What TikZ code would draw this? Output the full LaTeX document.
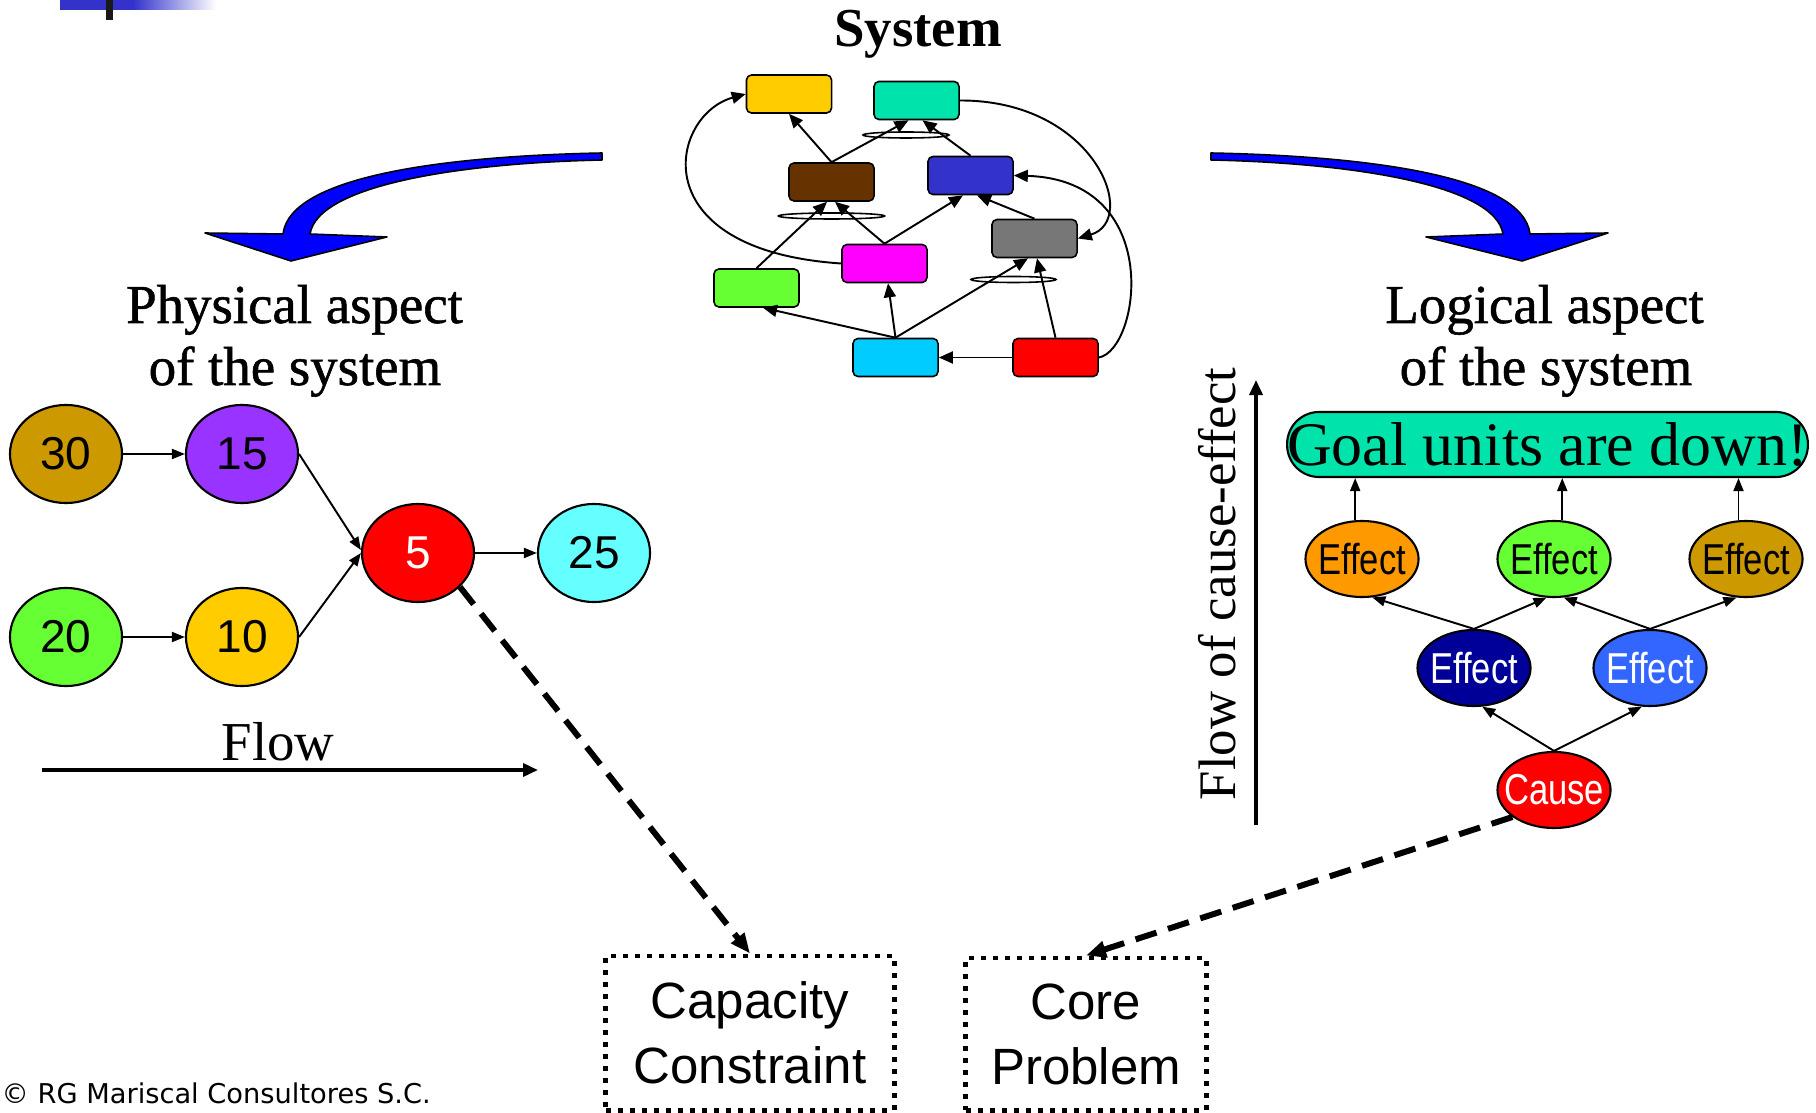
\documentclass[tikz,border=0pt]{standalone}
\usepackage{fontspec}
\setmainfont{Liberation Serif}
\newfontfamily\titlefont[FakeBold=1]{Liberation Serif}
\newfontfamily\sansfont{Liberation Sans}
\newfontfamily\narrowsans[FakeStretch=0.8]{Liberation Sans}
\newfontfamily\notefont{DejaVu Sans}
\usetikzlibrary{arrows.meta,shapes.geometric,calc}

\definecolor{cyellow}{HTML}{FFCC00}
\definecolor{cteal}{HTML}{00E3AA}
\definecolor{cbrown}{HTML}{663300}
\definecolor{cblue}{HTML}{3333CC}
\definecolor{cgray}{HTML}{777777}
\definecolor{cmagenta}{HTML}{FF00FF}
\definecolor{cgreen}{HTML}{66FF33}
\definecolor{ccyan}{HTML}{00CCFF}
\definecolor{cred}{HTML}{FF0000}
\definecolor{colive}{HTML}{CC9900}
\definecolor{cviolet}{HTML}{9933FF}
\definecolor{caqua}{HTML}{66FFFF}
\definecolor{corange}{HTML}{FF9900}
\definecolor{cnavy}{HTML}{000099}
\definecolor{csky}{HTML}{3366FF}
\definecolor{cbarblue}{HTML}{3333CC}

% zero-width text so the ellipse keeps its own size
\newcommand\zw[1]{\makebox[0pt]{#1}}

\tikzset{
  sysbox/.style={draw, line width=0.45pt, rounded corners=0.05cm,
    minimum width=0.85cm, minimum height=0.38cm, inner sep=0pt},
  sysarr/.style={-{Triangle[length=0.14cm,width=0.12cm]}, line width=0.55pt},
  andarc/.style={line width=0.45pt},
  physnode/.style={ellipse, draw, line width=0.6pt, minimum width=1.12cm,
    minimum height=0.98cm, inner sep=0pt,
    font=\sansfont\fontsize{13.1pt}{13.1pt}\selectfont},
  effnode/.style={ellipse, draw, line width=0.6pt, minimum width=1.13cm,
    minimum height=0.76cm, inner sep=0pt,
    font=\narrowsans\fontsize{12.3pt}{12pt}\selectfont},
  thinarr/.style={-{Triangle[length=0.13cm,width=0.1cm]}, line width=0.55pt},
  flowarr/.style={-{Triangle[length=0.15cm,width=0.13cm]}, line width=1pt},
  dasharr/.style={-{Triangle[length=0.2cm,width=0.16cm]}, line width=1.7pt,
    dash pattern=on 0.22cm off 0.12cm},
  dotbox/.style={draw, line width=1.4pt, dash pattern=on 0.05cm off 0.07cm,
    inner sep=0pt, align=center,
    font=\sansfont\fontsize{14.5pt}{18.5pt}\selectfont},
  titletext/.style={anchor=base, inner sep=0pt,
    font=\titlefont\fontsize{15.6pt}{15.6pt}\selectfont},
  bigarrow/.style={fill=blue, draw=black, line width=0.45pt, line join=round},
}

% outline of the curved block arrow (left-hand version)
\newcommand\curvedblock{%
  (602,153) .. controls (450,156) and (290,175) .. (283,234)
  -- (205,233) -- (291,261) -- (387,237) -- (310,234)
  .. controls (318,185) and (460,163) .. (602,160) -- cycle}

\begin{document}
\begin{tikzpicture}[x=0.01cm, y=-0.01cm]
\useasboundingbox (0,0) rectangle (1816,1113);

% corner ornament
\fill[cbarblue] (60,0) rectangle (134,10);
\shade[left color=cbarblue, right color=white] (133,0) rectangle (216,10);
\fill[black!90] (106,0) rectangle (113,20);

% ---------- system graph ----------
\node[titletext, font=\bfseries\fontsize{15.6pt}{15.6pt}\selectfont] (systitle) at (918,47) {System};

\node[sysbox, fill=cyellow]  (yel)   at (789,94)      {};
\node[sysbox, fill=cteal]    (teal)  at (916.5,100.5) {};
\node[sysbox, fill=cbrown]   (brown) at (831.5,182)   {};
\node[sysbox, fill=cblue]    (blu)   at (970.5,175.5) {};
\node[sysbox, fill=cgray]    (gry)   at (1034.5,238.5){};
\node[sysbox, fill=cmagenta] (mag)   at (884.5,263.5) {};
\node[sysbox, fill=cgreen]   (grn)   at (756.5,288)   {};
\node[sysbox, fill=ccyan]    (cya)   at (895.5,357.5) {};
\node[sysbox, fill=cred]     (rd)    at (1055.5,357.5){};

\draw[andarc] (906,135) ellipse [x radius=0.43cm, y radius=0.03cm];
\draw[andarc] (831.5,216) ellipse [x radius=0.53cm, y radius=0.03cm];
\draw[andarc] (1013.5,279.5) ellipse [x radius=0.425cm, y radius=0.03cm];

\draw[sysarr] (brown.north) -- (yel.south);
\draw[sysarr] (brown.north) -- ($(teal.south)+(-8,0)$);
\draw[sysarr] (blu.north) -- ($(teal.south)+(6,0)$);
\draw[sysarr] (grn.north) -- ($(brown.south)+(-4.5,0)$);
\draw[sysarr] (mag.north) -- ($(brown.south)+(3.5,0)$);
\draw[sysarr] (mag.north) -- ($(blu.south)+(-7.5,0)$);
\draw[sysarr] (gry.north) -- ($(blu.south)+(6.5,0)$);
\draw[sysarr] (cya.north) -- ($(mag.south)+(3.5,0)$);
\draw[sysarr] (cya.north) -- ($(gry.south)+(-6.5,0)$);
\draw[sysarr] (cya.north) -- ($(grn.south)+(6.5,0)$);
\draw[sysarr] (rd.north) -- ($(gry.south)+(2.5,0)$);
\draw[sysarr] (rd.west) -- (cya.east);
\draw[sysarr] (mag.west) .. controls (640,250) and (670,115) .. (yel.west);
\draw[sysarr] (teal.east) .. controls (1095,100) and (1140,220) .. (gry.east);
\draw[sysarr] (rd.east) .. controls (1140,350) and (1165,180) .. (blu.east);

% ---------- curved block arrows ----------
\path[bigarrow] \curvedblock;
\begin{scope}[shift={(1813,0)}, xscale=-1]
  \path[bigarrow] \curvedblock;
\end{scope}

% ---------- physical aspect ----------
\node[titletext] (phys1) at (294.5,323) {Physical aspect};
\node[titletext] (phys2) at (295,385) {of the system};

\node[physnode, fill=colive]  (p30) at (66,454)  {\zw{30}};
\node[physnode, fill=cviolet] (p15) at (242,454) {\zw{15}};
\node[physnode, fill=cgreen]  (p20) at (66,637)  {\zw{20}};
\node[physnode, fill=cyellow] (p10) at (242,637) {\zw{10}};
\node[physnode, fill=cred, text=white] (p5) at (418,553) {\zw{5}};
\node[physnode, fill=caqua]   (p25) at (594,553) {\zw{25}};

\draw[thinarr] (p30.east) -- (p15.west);
\draw[thinarr] (p20.east) -- (p10.west);
\draw[thinarr] (p15.east) -- ($(p5.west)+(0,-3)$);
\draw[thinarr] (p10.east) -- (p5.west);
\draw[thinarr] (p5.east) -- (p25.west);

\coordinate (flowstart) at (42,770);
\coordinate (flowend) at (538,770);
\draw[flowarr] (flowstart) -- (flowend);
\node[anchor=base, inner sep=0pt, font=\fontsize{15.6pt}{15.6pt}\selectfont]
  (flowlabel) at (278,760) {Flow};

% ---------- logical aspect ----------
\node[titletext] (log1) at (1544.5,323) {Logical aspect};
\node[titletext] (log2) at (1546,385) {of the system};

\node[draw, fill=cteal, line width=0.6pt, rounded corners=0.32cm,
  minimum width=5.15cm, minimum height=0.65cm, inner sep=0pt,
  font=\fontsize{17.6pt}{17.6pt}\selectfont] (goal) at (1547.5,444.5)
  {Goal units are down!};

\node[effnode, fill=corange] (eo)  at (1362,559) {\zw{Effect}};
\node[effnode, fill=cgreen]  (eg)  at (1554,559) {\zw{Effect}};
\node[effnode, fill=colive]  (eol) at (1746,559) {\zw{Effect}};
\node[effnode, fill=cnavy, text=white] (ed) at (1474,668) {\zw{Effect}};
\node[effnode, fill=csky, text=white]  (eb) at (1650,668) {\zw{Effect}};
\node[effnode, fill=cred, text=white] (cause) at (1554,790) {\zw{Cause}};

\draw[thinarr] (eo.100) -- (eo.100 |- goal.south);
\draw[thinarr] (eg.78) -- (eg.78 |- goal.south);
\draw[thinarr] (eol.101) -- (eol.101 |- goal.south);
\draw[thinarr] (ed.north) -- (eo.-75);
\draw[thinarr] (ed.north) -- (eg.-101);
\draw[thinarr] (eb.north) -- (eg.-76);
\draw[thinarr] (eb.north) -- (eol.-104);
\draw[thinarr] (cause.north) -- (ed.-78);
\draw[thinarr] (cause.north) -- (eb.-102);

\coordinate (cestart) at (1256,825);
\coordinate (ceend) at (1256,380);
\draw[flowarr] (cestart) -- (ceend);
\node[rotate=90, anchor=base, inner sep=0pt,
  font=\fontsize{15pt}{15pt}\selectfont] (celabel) at (1235,584)
  {Flow of cause-effect};

% ---------- conclusions ----------
\node[dotbox, minimum width=2.88cm, minimum height=1.54cm] (cap) at (750,1033)
  {Capacity\\Constraint};
\node[dotbox, minimum width=2.40cm, minimum height=1.52cm] (core) at (1086,1034)
  {Core\\Problem};

\draw[dasharr] (p5.-39) -- (cap.north);
\draw[dasharr] (cause.-147) -- (core.north);

\node[anchor=base west, inner sep=0pt,
  font=\notefont\fontsize{7.75pt}{8pt}\selectfont] (copyright) at (1,1103)
  {© RG Mariscal Consultores S.C.};
\end{tikzpicture}
\end{document}
